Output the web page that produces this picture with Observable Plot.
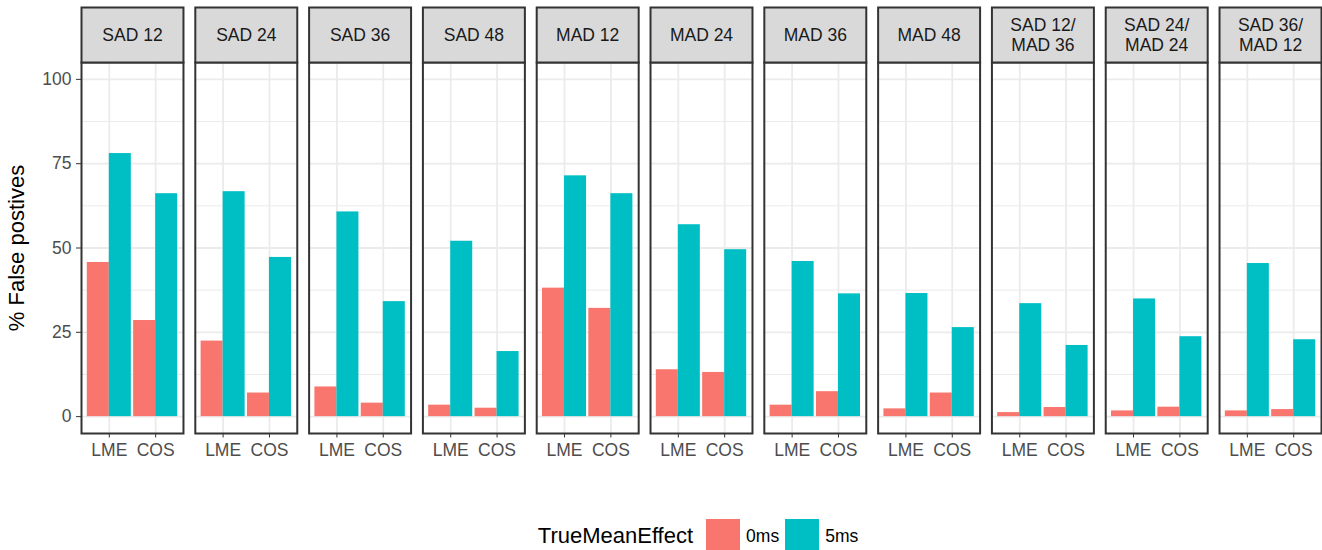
<!DOCTYPE html>
<html>
<head>
<meta charset="utf-8">
<script src="https://cdn.jsdelivr.net/npm/d3@7"></script>
<script src="https://cdn.jsdelivr.net/npm/@observablehq/plot@0.6"></script>
<style>
  html, body { margin: 0; padding: 0; background: #fff; overflow: hidden; }
  body { width: 1322px; height: 550px; font-family: "Liberation Sans", Arial, sans-serif; }
  #chart svg { display: block; }
  #chart g[aria-label$="tick label"] text, #chart g[aria-label$="tick label"],
  #chart g[aria-label="x-axis"] .tick text, #chart g[aria-label="y-axis"] .tick text { fill: #4d4d4d; }
  #chart g[aria-label="y-axis label"] text, #chart g[aria-label="y-axis label"],
  #chart g[aria-label="y-axis"] > text { font-size: 22px; fill: #000; }
  #legend { display: flex; justify-content: center; align-items: center; margin-left: 81px; width: 1240px; padding-top: 9px; height: 34px; }
  #legend .title { font-size: 22px; color: #000; margin-right: 13px; }
  #legend .key { width: 34px; height: 34px; margin-right: 6px; }
  #legend .lab { font-size: 17.5px; color: #000; margin-right: 6px; }
</style>
</head>
<body>
<div id="chart"></div>
<div id="legend"></div>
<script>
// ---- data ----
const panels = ["SAD 12", "SAD 24", "SAD 36", "SAD 48", "MAD 12", "MAD 24", "MAD 36", "MAD 48",
                "SAD 12/\nMAD 36", "SAD 24/\nMAD 24", "SAD 36/\nMAD 12"];
const methods = ["LME", "COS"];
const effects = ["0ms", "5ms"];
const lme0ms = [45.7, 22.4, 8.8, 3.4, 38.1, 13.9, 3.4, 2.3, 1.2, 1.7, 1.7];
const lme5ms = [78.0, 66.7, 60.7, 52.0, 71.4, 56.9, 46.0, 36.5, 33.5, 34.9, 45.4];
const cos0ms = [28.5, 7.0, 4.0, 2.5, 32.1, 13.1, 7.4, 7.0, 2.7, 2.8, 2.1];
const cos5ms = [66.1, 47.2, 34.1, 19.3, 66.1, 49.5, 36.4, 26.4, 21.1, 23.7, 22.8];
const yTicks = [0, 25, 50, 75, 100];
const yMinor = [12.5, 37.5, 62.5, 87.5];
const colors = ["#F8766D", "#00BFC4"];

// ---- table ----
const series = {LME: {"0ms": lme0ms, "5ms": lme5ms}, COS: {"0ms": cos0ms, "5ms": cos5ms}};
const dodge = 0.95;
const rows = [];
panels.forEach((panel, i) => {
  methods.forEach((method, mi) => {
    effects.forEach((effect, ei) => {
      const center = mi + 1;
      const x1 = center - dodge / 2 + ei * dodge / 2;
      rows.push({panel, method, effect, value: series[method][effect][i], x1, x2: x1 + dodge / 2});
    });
  });
});

const W = 1322, H = 510, mTop = 62, mBottom = 77, stripH = 55;
const frameH = H - mTop - mBottom;

const chart = Plot.plot({
  width: W,
  height: H,
  marginLeft: 81,
  marginRight: 1,
  marginTop: mTop,
  marginBottom: mBottom,
  style: {fontSize: "17.5px", fontFamily: "'Liberation Sans', Arial, sans-serif", color: "#333", background: "#fff"},
  facet: {data: rows, x: "panel"},
  fx: {domain: panels, paddingInner: 0.104, paddingOuter: 0, axis: null, label: null, round: false},
  x: {domain: [0.4, 2.6], ticks: [1, 2], tickFormat: d => methods[d - 1], tickSize: 4.5, tickPadding: 6, label: null},
  y: {domain: [-5, 105], ticks: yTicks, tickSize: 5, tickPadding: 5, label: "% False postives", labelAnchor: "center", labelOffset: 73, labelArrow: "none"},
  color: {domain: effects, range: colors},
  marks: [
    Plot.ruleY(yMinor, {stroke: "#EBEBEB", strokeWidth: 1}),
    Plot.ruleY(yTicks, {stroke: "#EBEBEB", strokeWidth: 1.8}),
    Plot.ruleX([1, 2], {stroke: "#EBEBEB", strokeWidth: 1.8}),
    Plot.rectY(rows, {x1: "x1", x2: "x2", y1: 0, y2: "value", fill: "effect"}),
    Plot.frame({stroke: "#333", strokeWidth: 2}),
    Plot.frame({fill: "#D9D9D9", stroke: "#333", strokeWidth: 2, insetTop: -stripH, insetBottom: frameH}),
    Plot.text(rows, Plot.selectFirst({text: "panel", frameAnchor: "top", dy: -27.5, lineAnchor: "middle", lineHeight: 1.12, fill: "#1A1A1A", fontSize: 17.5}))
  ]
});
document.getElementById("chart").appendChild(chart);

// ---- legend ----
const legend = document.getElementById("legend");
const t = document.createElement("span");
t.className = "title"; t.textContent = "TrueMeanEffect";
legend.appendChild(t);
effects.forEach((e, i) => {
  const k = document.createElement("span");
  k.className = "key"; k.style.background = colors[i];
  legend.appendChild(k);
  const l = document.createElement("span");
  l.className = "lab"; l.textContent = e;
  legend.appendChild(l);
});
</script>
</body>
</html>
